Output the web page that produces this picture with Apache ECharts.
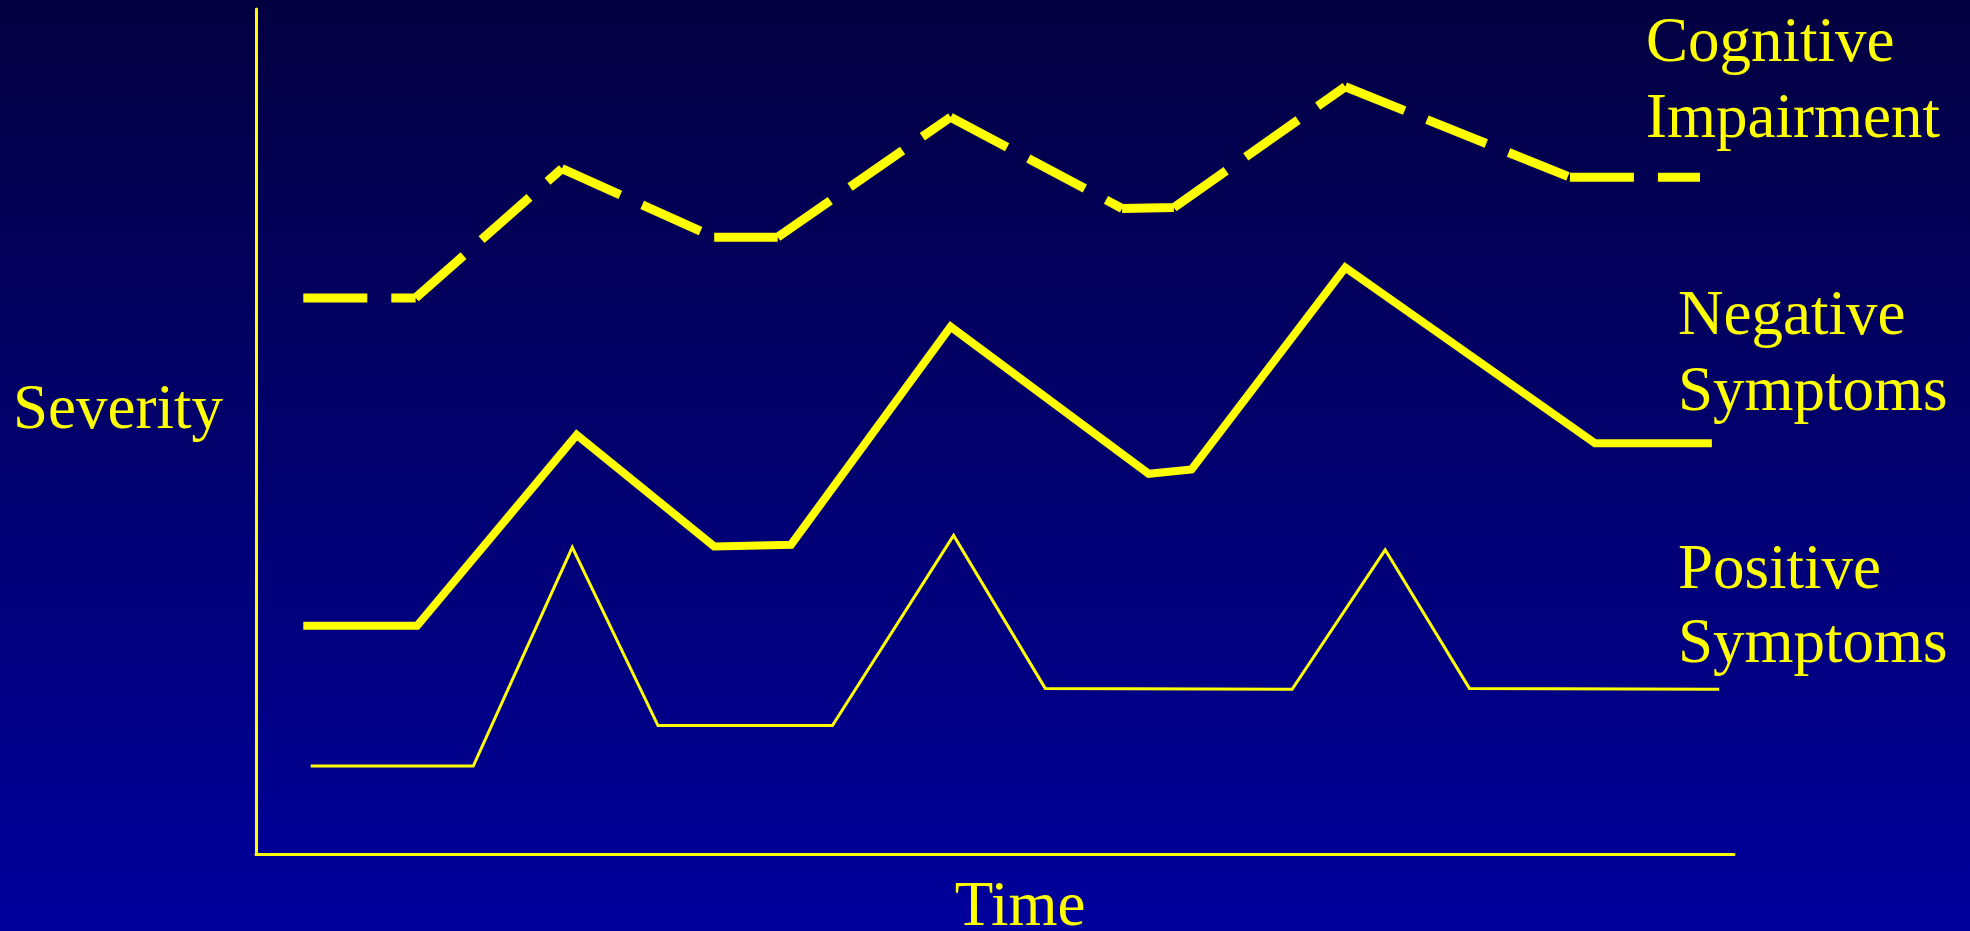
<!DOCTYPE html>
<html>
<head>
<meta charset="utf-8">
<script src="https://cdn.jsdelivr.net/npm/echarts@6/dist/echarts.min.js"></script>
<style>
html,body{margin:0;padding:0;background:#000060;}
#chart{width:1970px;height:931px;}
</style>
</head>
<body>
<div id="chart"></div>
<script>
// ---- data (time units 0-100, severity units 0-100) ----
const cognitiveTime = [3.2, 10.8, 20.7, 31.0, 35.3, 47.0, 58.6, 62.1, 73.7, 88.9, 97.7];
const cognitiveSev  = [65.8, 65.8, 81.1, 73.0, 73.0, 87.2, 76.4, 76.5, 90.8, 80.1, 80.1];

const negativeTime = [3.2, 10.9, 21.7, 31.0, 36.2, 47.0, 60.4, 63.3, 73.7, 90.6, 98.5];
const negativeSev  = [27.0, 27.0, 49.6, 36.4, 36.6, 62.4, 45.0, 45.5, 69.4, 48.6, 48.6];

const positiveTime = [3.7, 14.7, 21.4, 27.2, 39.0, 47.2, 53.4, 70.1, 76.4, 82.1, 99.0];
const positiveSev  = [10.4, 10.4, 36.3, 15.2, 15.2, 37.7, 19.6, 19.5, 36.0, 19.6, 19.5];

const seriesLabels = [
  ['Cognitive', 'Impairment'],
  ['Negative', 'Symptoms'],
  ['Positive', 'Symptoms']
];
const xAxisTitle = 'Time';
const yAxisTitle = 'Severity';

function pairs(xs, ys) { return xs.map((x, i) => [x, ys[i]]); }
// each segment as its own sub-path so the dash pattern restarts at every vertex
function segments(xs, ys) {
  const out = [];
  for (let i = 0; i < xs.length - 1; i++) {
    if (i > 0) out.push('-');
    out.push([xs[i], ys[i]], [xs[i + 1], ys[i + 1]]);
  }
  return out;
}

const YEL = '#ffff00';
const FONT = '"Liberation Serif", "Times New Roman", serif';
const FS = 63;

function textEl(str, x, baseline, align) {
  return {
    type: 'text',
    x: x,
    y: baseline - 0.3375 * FS + 5,
    style: {
      text: str,
      fill: YEL,
      font: FS + 'px ' + FONT,
      textAlign: align || 'left',
      textVerticalAlign: 'middle'
    },
    silent: true
  };
}

const chart = echarts.init(document.getElementById('chart'), null, { renderer: 'canvas' });

const option = {
  backgroundColor: {
    type: 'linear', x: 0, y: 0, x2: 0, y2: 1,
    colorStops: [
      { offset: 0, color: '#030040' },
      { offset: 1, color: '#00009c' }
    ]
  },
  animation: false,
  grid: { left: 256, right: 236, top: 9, bottom: 77, containLabel: false },
  xAxis: {
    type: 'value', min: 0, max: 100,
    axisLine: { show: true, lineStyle: { color: YEL, width: 3 } },
    axisTick: { show: false }, axisLabel: { show: false }, splitLine: { show: false }
  },
  yAxis: {
    type: 'value', min: 0, max: 100,
    axisLine: { show: true, lineStyle: { color: YEL, width: 3 } },
    axisTick: { show: false }, axisLabel: { show: false }, splitLine: { show: false }
  },
  series: [
    {
      name: seriesLabels[0].join(' '), type: 'line', data: segments(cognitiveTime, cognitiveSev),
      symbol: 'none', smooth: false, connectNulls: false,
      lineStyle: { color: YEL, width: 9, type: [64, 24], cap: 'butt', join: 'miter' }
    },
    {
      name: seriesLabels[1].join(' '), type: 'line', data: pairs(negativeTime, negativeSev),
      symbol: 'none', smooth: false,
      lineStyle: { color: YEL, width: 8, type: 'solid', cap: 'butt', join: 'miter' }
    },
    {
      name: seriesLabels[2].join(' '), type: 'line', data: pairs(positiveTime, positiveSev),
      symbol: 'none', smooth: false,
      lineStyle: { color: YEL, width: 3, type: 'solid', cap: 'butt', join: 'miter' }
    }
  ],
  graphic: [
    textEl(seriesLabels[0][0], 1646, 61),
    textEl(seriesLabels[0][1], 1646, 137),
    textEl(seriesLabels[1][0], 1678, 334),
    textEl(seriesLabels[1][1], 1678, 410),
    textEl(seriesLabels[2][0], 1678, 588),
    textEl(seriesLabels[2][1], 1678, 662),
    textEl(yAxisTitle, 13, 428),
    textEl(xAxisTitle, 1020, 925, 'center')
  ]
};
chart.setOption(option);
</script>
</body>
</html>
